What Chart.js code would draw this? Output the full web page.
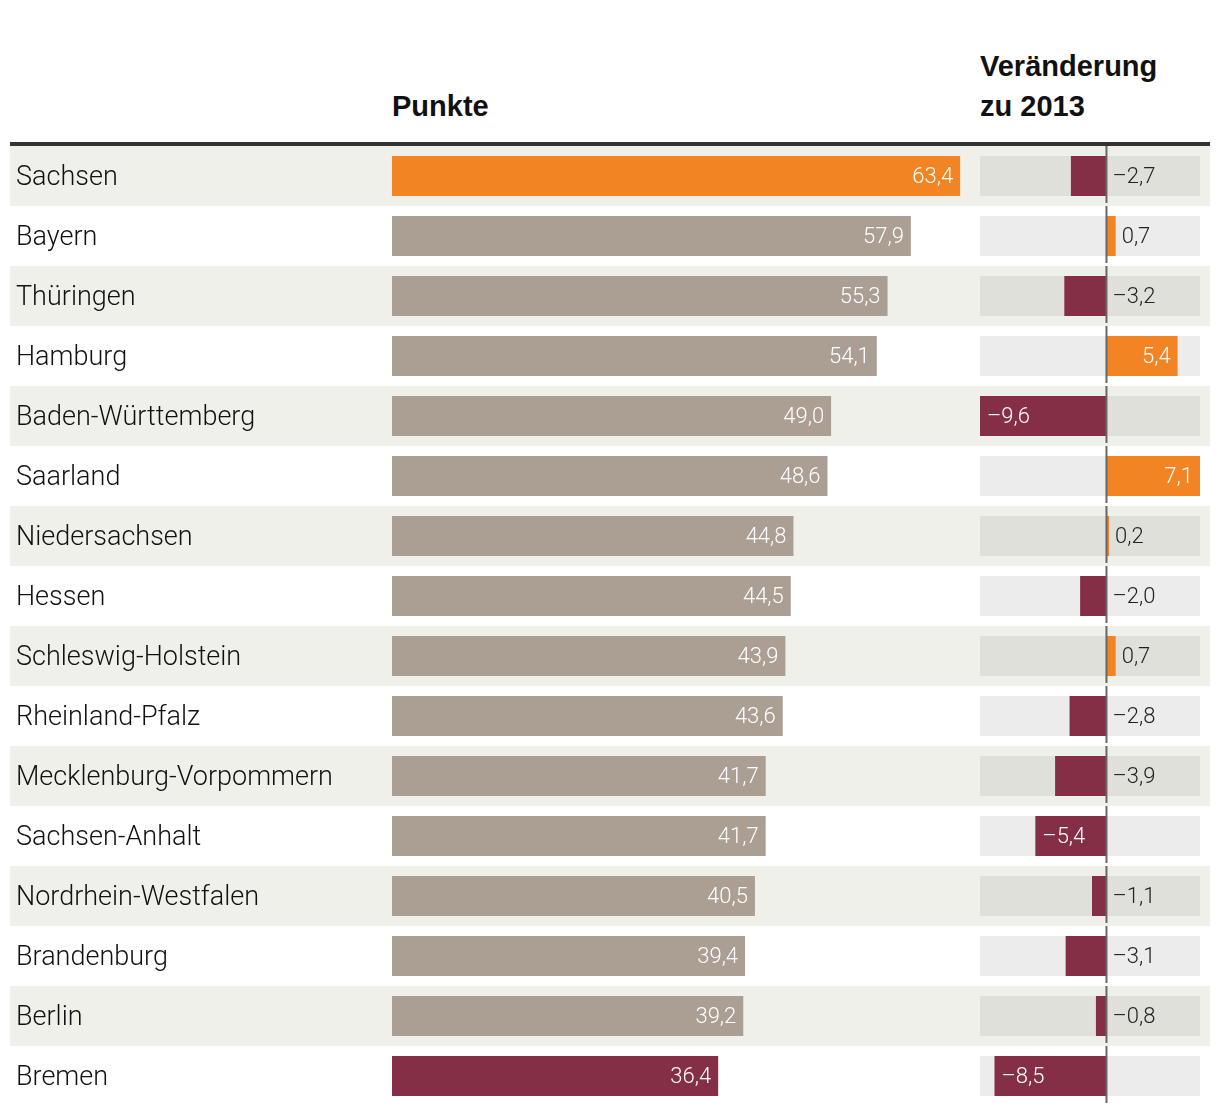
<!DOCTYPE html>
<html>
<head>
<meta charset="utf-8">
<script src="https://cdn.jsdelivr.net/npm/chart.js@4.4.1/dist/chart.umd.min.js"></script>
<style>
  body { margin: 0; background: #fff; }
  #wrap { position: relative; width: 1220px; height: 1114px; }
  .head { position: absolute; font: bold 29px "Liberation Sans", Arial, sans-serif; color: #111; line-height: 40px; }
  #rule { position: absolute; left: 10px; top: 142px; width: 1200px; height: 4px; background: #333; }
  #leftBox { position: absolute; left: 10px; top: 146px; width: 960px; height: 960px; }
  #rightBox { position: absolute; left: 970px; top: 146px; width: 240px; height: 960px; }
</style>
</head>
<body>
<div id="wrap">
  <div class="head" style="left:392px;top:86px;">Punkte</div>
  <div class="head" style="left:980px;top:46px;">Veränderung<br>zu 2013</div>
  <div id="rule"></div>
  <div id="leftBox"><canvas id="leftChart" width="960" height="960"></canvas></div>
  <div id="rightBox"><canvas id="rightChart" width="240" height="960"></canvas></div>
</div>
<script>
const states = ["Sachsen", "Bayern", "Thüringen", "Hamburg", "Baden-Württemberg", "Saarland",
  "Niedersachsen", "Hessen", "Schleswig-Holstein", "Rheinland-Pfalz", "Mecklenburg-Vorpommern",
  "Sachsen-Anhalt", "Nordrhein-Westfalen", "Brandenburg", "Berlin", "Bremen"];
const punkte = [63.4, 57.9, 55.3, 54.1, 49.0, 48.6, 44.8, 44.5, 43.9, 43.6, 41.7, 41.7, 40.5, 39.4, 39.2, 36.4];
const veraenderung = [-2.7, 0.7, -3.2, 5.4, -9.6, 7.1, 0.2, -2.0, 0.7, -2.8, -3.9, -5.4, -1.1, -3.1, -0.8, -8.5];

const ORANGE = "#f28424";
const MAROON = "#852f47";
const GRAY = "#ab9f94";
const STRIPE = "#f0f0eb";

// german number format
const fmt = v => (v < 0 ? "\u2013" : "") + Math.abs(v).toFixed(1).replace(".", ",");

// alternating row background
const stripes = {
  id: "stripes",
  beforeDraw(chart) {
    const { ctx, scales: { y } } = chart;
    const h = y.getPixelForValue(1) - y.getPixelForValue(0);
    ctx.save();
    ctx.fillStyle = STRIPE;
    states.forEach((s, i) => {
      if (i % 2 === 0) ctx.fillRect(0, y.getPixelForValue(i) - h / 2, chart.width, h);
    });
    ctx.restore();
  }
};

// values inside the main bars
const punkteLabels = {
  id: "punkteLabels",
  afterDatasetsDraw(chart) {
    const ctx = chart.ctx;
    ctx.save();
    ctx.font = "300 22px Roboto";
    ctx.fillStyle = "#fff";
    ctx.textAlign = "right";
    ctx.textBaseline = "middle";
    chart.getDatasetMeta(0).data.forEach((bar, i) => {
      ctx.fillText(fmt(punkte[i]), bar.x - 7, bar.y + 1);
    });
    ctx.restore();
  }
};

// zero line + change values
const changeLabels = {
  id: "changeLabels",
  afterDatasetsDraw(chart) {
    const { ctx, scales: { x, y } } = chart;
    const x0 = x.getPixelForValue(0);
    const h = y.getPixelForValue(1) - y.getPixelForValue(0);
    ctx.save();
    ctx.strokeStyle = "#666";
    ctx.lineWidth = 2;
    states.forEach((s, i) => {
      const top = y.getPixelForValue(i) - h / 2;
      ctx.beginPath();
      ctx.moveTo(x0, top);
      ctx.lineTo(x0, top + h - 3);
      ctx.stroke();
    });
    ctx.font = "300 22px Roboto";
    ctx.textBaseline = "middle";
    const meta = chart.getDatasetMeta(1);
    meta.data.forEach((bar, i) => {
      const v = veraenderung[i];
      if (Math.abs(v) >= 5) {
        ctx.fillStyle = "#fff";
        if (v < 0) { ctx.textAlign = "left"; ctx.fillText(fmt(v), bar.x + 7, bar.y + 1); }
        else { ctx.textAlign = "right"; ctx.fillText(fmt(v), bar.x - 7, bar.y + 1); }
      } else {
        ctx.fillStyle = "#222";
        ctx.textAlign = "left";
        const start = v > 0 ? bar.x : x0;
        ctx.fillText(fmt(v), start + 6, bar.y + 1);
      }
    });
    ctx.restore();
  }
};

const maxP = Math.max(...punkte), minP = Math.min(...punkte);

new Chart(document.getElementById("leftChart"), {
  type: "bar",
  data: {
    labels: states,
    datasets: [{
      data: punkte,
      backgroundColor: punkte.map(v => v === maxP ? ORANGE : v === minP ? MAROON : GRAY),
      barPercentage: 2 / 3,
      categoryPercentage: 1
    }]
  },
  options: {
    indexAxis: "y",
    responsive: false,
    animation: false,
    layout: { padding: { left: 6, right: 0, top: 0, bottom: 0 } },
    plugins: { legend: { display: false }, tooltip: { enabled: false } },
    scales: {
      x: { display: false, min: 0, max: 64.5 },
      y: {
        grid: { display: false },
        border: { display: false },
        ticks: {
          crossAlign: "far", color: "#111", padding: 0, labelOffset: 2,
          font: { family: "Roboto", size: 27, weight: 300 }
        },
        afterFit(scale) {
          scale.width = 376;
          scale.paddingTop = 0;
          scale.paddingBottom = 0;
        }
      }
    }
  },
  plugins: [stripes, punkteLabels]
});

const spanMin = -9.6, spanMax = 7.1;

new Chart(document.getElementById("rightChart"), {
  type: "bar",
  data: {
    labels: states,
    datasets: [{
      data: states.map(() => [spanMin, spanMax]),
      backgroundColor: states.map((s, i) => i % 2 === 0 ? "#e0e0db" : "#ececec"),
      grouped: false,
      order: 2,
      barPercentage: 2 / 3,
      categoryPercentage: 1
    }, {
      data: veraenderung,
      backgroundColor: veraenderung.map(v => v < 0 ? MAROON : ORANGE),
      grouped: false,
      order: 1,
      barPercentage: 2 / 3,
      categoryPercentage: 1
    }]
  },
  options: {
    indexAxis: "y",
    responsive: false,
    animation: false,
    layout: { padding: { left: 10, right: 10, top: 0, bottom: 0 } },
    plugins: { legend: { display: false }, tooltip: { enabled: false } },
    scales: {
      x: { display: false, min: spanMin, max: spanMax },
      y: { display: false }
    }
  },
  plugins: [stripes, changeLabels]
});
</script>
</body>
</html>
